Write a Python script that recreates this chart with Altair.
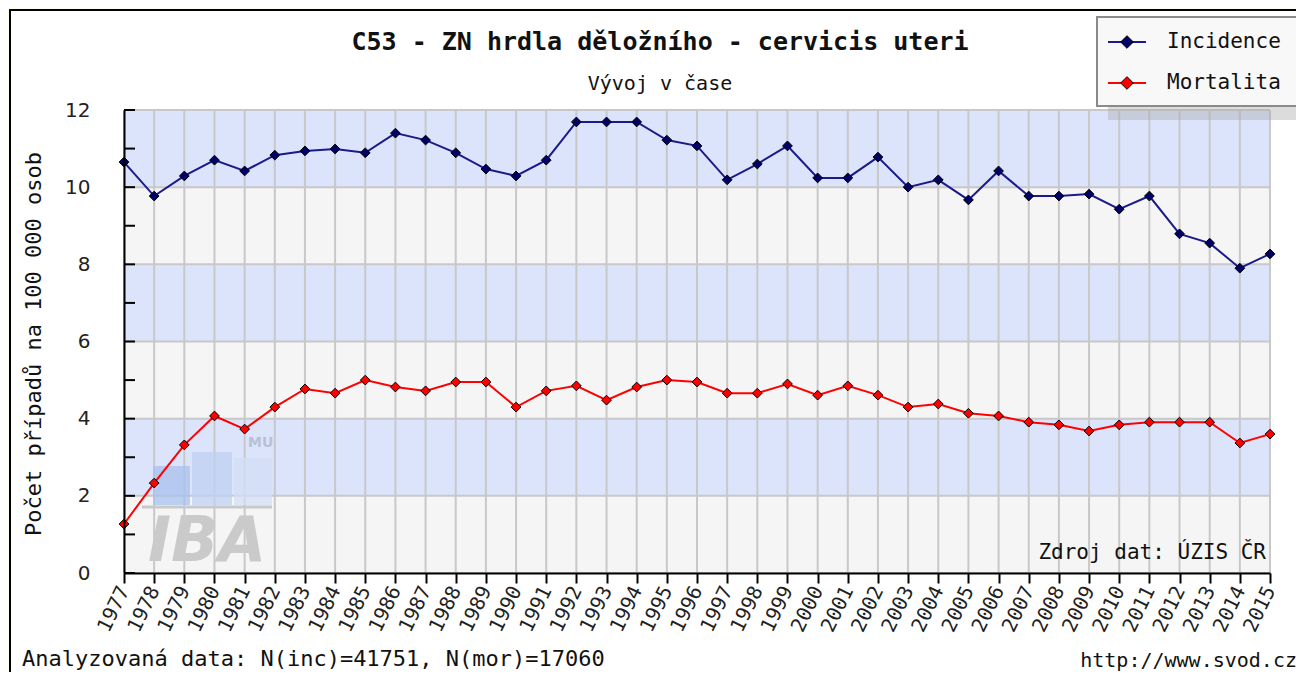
import altair as alt
import pandas as pd

years = list(range(1977, 2016))
incidence = [10.65, 9.77, 10.29, 10.70, 10.42, 10.83, 10.94, 10.99, 10.89, 11.40,
             11.22, 10.89, 10.47, 10.29, 10.70, 11.69, 11.69, 11.69, 11.22, 11.07,
             10.19, 10.60, 11.07, 10.24, 10.24, 10.78, 10.00, 10.19, 9.67, 10.42,
             9.77, 9.77, 9.82, 9.43, 9.77, 8.79, 8.55, 7.90, 8.27]
mortalita = [1.27, 2.33, 3.32, 4.07, 3.73, 4.30, 4.77, 4.66, 5.00, 4.82,
             4.72, 4.95, 4.95, 4.30, 4.72, 4.85, 4.48, 4.82, 5.00, 4.95,
             4.66, 4.66, 4.90, 4.61, 4.85, 4.61, 4.30, 4.38, 4.14, 4.07,
             3.91, 3.84, 3.68, 3.84, 3.91, 3.91, 3.91, 3.37, 3.60]
series_names = ["Incidence", "Mortalita"]
series_colors = ["#1a1a8a", "#ff0000"]
marker_colors = ["#000066", "#ff0000"]
band_starts = [0, 2, 4, 6, 8, 10]
band_ends = [2, 4, 6, 8, 10, 12]
band_colors = ["#f5f5f5", "#dce4fc", "#f5f5f5", "#dce4fc", "#f5f5f5", "#dce4fc"]
y_major = [0, 2, 4, 6, 8, 10, 12]
y_minor = list(range(0, 13))

title_text = "C53 - ZN hrdla děložního - cervicis uteri"
subtitle_text = "Vývoj v čase"
y_title = "Počet případů na 100 000 osob"
source_text = "Zdroj dat: ÚZIS ČR"
footer_left = "Analyzovaná data: N(inc)=41751, N(mor)=17060"
footer_right = "http://www.svod.cz"

W, H = 1146, 463
MONO = "DejaVu Sans Mono"
SANS = "DejaVu Sans"

df = pd.DataFrame({
    "year": years * 2,
    "value": incidence + mortalita,
    "series": [series_names[0]] * len(years) + [series_names[1]] * len(years),
})
bands = pd.DataFrame({"y0": band_starts, "y1": band_ends, "c": band_colors})
one = pd.DataFrame({"a": [0]})

xs = alt.Scale(domain=[years[0], years[-1]], nice=False, zero=False)
ys = alt.Scale(domain=[0, 12], nice=False)
cs = alt.Scale(domain=series_names, range=series_colors)
fs = alt.Scale(domain=series_names, range=marker_colors)

xaxis = alt.Axis(values=years, format="d", title=None, grid=False, labelAngle=-64,
                 labelAlign="right", labelBaseline="middle", labelFont=MONO, labelFontSize=20,
                 labelColor="#222", labelPadding=4, tickSize=10, tickColor="black", tickWidth=2,
                 domainColor="black", domainWidth=2, zindex=1, labelOverlap=False,
                 labelBound=False, labelFlush=False)
yaxis = alt.Axis(values=y_major, title=None, grid=False, ticks=False, labelPadding=34,
                 labelFont=SANS, labelFontSize=20, labelColor="#222", domainColor="black",
                 domainWidth=2, zindex=1, labelOverlap=False)

X = lambda f: alt.X(f, scale=xs, axis=xaxis)
Y = lambda f: alt.Y(f, scale=ys, axis=yaxis)

frame = alt.Chart(one).mark_rect(fill="white", stroke="black", strokeWidth=2).encode(
    x=alt.value(-114), x2=alt.value(1300), y=alt.value(-100), y2=alt.value(700))

band_layer = alt.Chart(bands).mark_rect().encode(
    y=Y("y0:Q"), y2="y1:Q",
    x=alt.value(0), x2=alt.value(W),
    color=alt.Color("c:N", scale=None, legend=None))

vgrid = alt.Chart(pd.DataFrame({"year": years})).mark_rule(color="#c8c8c8", strokeWidth=2).encode(
    x=X("year:Q"), y=alt.value(0), y2=alt.value(H))
hgrid = alt.Chart(pd.DataFrame({"t": y_major})).mark_rule(color="#c8c8c8", strokeWidth=2).encode(
    y=Y("t:Q"), x=alt.value(0), x2=alt.value(W))
yticks = alt.Chart(pd.DataFrame({"t": y_minor})).mark_rule(color="black", strokeWidth=2).encode(
    y=Y("t:Q"), x=alt.value(0), x2=alt.value(11))

# watermark (IBA MU logo)
wm_bar1 = alt.Chart(one).mark_rect(fill="#a9c1ee", opacity=0.75).encode(
    x=alt.value(29), x2=alt.value(66), y=alt.value(356), y2=alt.value(395))
wm_bar2 = alt.Chart(one).mark_rect(fill="#bfd0f2", opacity=0.75).encode(
    x=alt.value(68), x2=alt.value(108), y=alt.value(342), y2=alt.value(395))
wm_bar3 = alt.Chart(one).mark_rect(fill="#d3def6", opacity=0.75).encode(
    x=alt.value(110), x2=alt.value(148), y=alt.value(348), y2=alt.value(395))
wm_line = alt.Chart(one).mark_rule(color="#c9c9c9", strokeWidth=3).encode(
    x=alt.value(18), x2=alt.value(148), y=alt.value(397))
wm_iba = alt.Chart(one).mark_text(text="IBA", font=SANS, fontSize=62, fontStyle="italic",
                                  fontWeight="bold", color="#cacaca", align="left",
                                  baseline="middle").encode(x=alt.value(24), y=alt.value(432))
wm_mu = alt.Chart(one).mark_text(text="MU", font=SANS, fontSize=14, fontWeight="bold",
                                 color="#b9c0d4", align="left", baseline="middle").encode(
    x=alt.value(124), y=alt.value(333))

lines = alt.Chart(df).mark_line(strokeWidth=2).encode(
    x=X("year:Q"), y=Y("value:Q"),
    color=alt.Color("series:N", scale=cs, legend=None),
    detail="series:N")
points = alt.Chart(df).mark_point(shape="diamond", filled=True, size=95, stroke="black",
                                  strokeWidth=1, opacity=1).encode(
    x=X("year:Q"), y=Y("value:Q"),
    fill=alt.Fill("series:N", scale=fs, legend=None))

def text(t, x, y, font=MONO, size=20, weight="normal", align="center", color="#111",
         angle=0, baseline="middle"):
    return alt.Chart(one).mark_text(text=t, font=font, fontSize=size, fontWeight=weight,
                                    align=align, color=color, angle=angle,
                                    baseline=baseline).encode(x=alt.value(x), y=alt.value(y))

title = text(title_text, 536, -68, size=25, weight="bold")
subtitle = text(subtitle_text, 536, -26, size=20)
ytitle = text(y_title, -90, 234, font=MONO, size=22, angle=270)
source = text(source_text, 1142, 443, size=21, align="right")
foot_l = text(footer_left, -102, 561, font=MONO, size=22, align="left", baseline="bottom")
foot_r = text(footer_right, 1173, 561, font=MONO, size=20, align="right", baseline="bottom")

# legend
shadow = alt.Chart(one).mark_rect(fill="#a8a8a8", opacity=0.4).encode(
    x=alt.value(984), x2=alt.value(1300), y=alt.value(-86), y2=alt.value(10))
box = alt.Chart(one).mark_rect(fill="#f8f8f8", stroke="#8a8a8a", strokeWidth=2).encode(
    x=alt.value(973), x2=alt.value(1300), y=alt.value(-93), y2=alt.value(-4))
leg = pd.DataFrame({"series": series_names, "ly": [-68, -27]})
leg_rule = alt.Chart(leg).mark_rule(strokeWidth=2).encode(
    x=alt.value(984), x2=alt.value(1022), y=alt.Y("ly:Q", scale=None),
    color=alt.Color("series:N", scale=cs, legend=None))
leg_pt = alt.Chart(leg).mark_point(shape="diamond", filled=True, size=160, stroke="black",
                                   strokeWidth=1, opacity=1).encode(
    x=alt.value(1003), y=alt.Y("ly:Q", scale=None),
    fill=alt.Fill("series:N", scale=fs, legend=None))
leg_txt = alt.Chart(leg).mark_text(font=MONO, fontSize=21, align="left", baseline="middle",
                                   color="#111").encode(
    x=alt.value(1043), y=alt.Y("ly:Q", scale=None), text="series:N")

chart = alt.layer(
    frame, band_layer, vgrid, hgrid, wm_bar1, wm_bar2, wm_bar3, wm_line, wm_iba, wm_mu,
    yticks, lines, points,
    title, subtitle, ytitle, source, foot_l, foot_r,
    shadow, box, leg_rule, leg_pt, leg_txt,
).resolve_scale(color="independent", fill="independent").properties(
    width=W, height=H,
    autosize=alt.AutoSizeParams(type="none"),
    padding={"left": 116, "top": 102, "right": 26, "bottom": 99},
    background="#fdfdea",
).configure_view(stroke=None)

chart.save("out.html", embed_options={"renderer": "svg", "actions": False})
